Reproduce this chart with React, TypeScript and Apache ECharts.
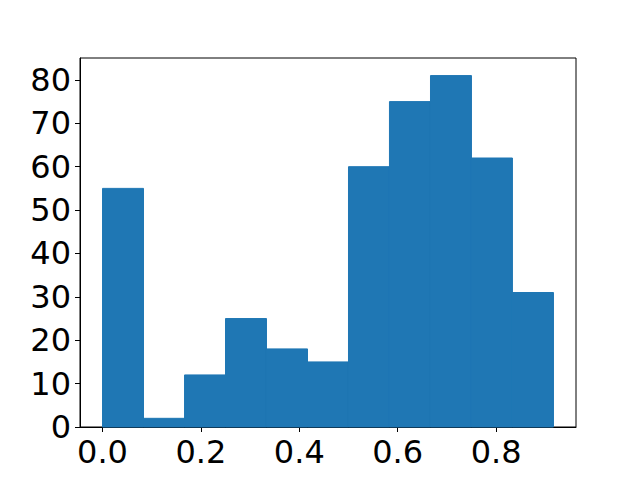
import React, { useEffect, useRef } from "react";
import * as echarts from "echarts";

const binStarts = [0, 0.0833, 0.1667, 0.25, 0.3333, 0.4167, 0.5, 0.5833, 0.6667, 0.75, 0.8333];
const binEnds = [0.0833, 0.1667, 0.25, 0.3333, 0.4167, 0.5, 0.5833, 0.6667, 0.75, 0.8333, 0.9167];
const counts = [55, 2, 12, 25, 18, 15, 60, 75, 81, 62, 31];
const xTicks = [0, 0.2, 0.4, 0.6, 0.8];
const yTicks = [0, 10, 20, 30, 40, 50, 60, 70, 80];

export default function App() {
  const ref = useRef<HTMLDivElement>(null);
  useEffect(() => {
    if (!ref.current) return;
    const chart = echarts.init(ref.current, undefined, { renderer: "svg" });
    const data = counts.map((c, i) => [binStarts[i], binEnds[i], c]);
    const font = { fontFamily: "DejaVu Sans", fontSize: 32, color: "#000" };
    chart.setOption({
      animation: false,
      backgroundColor: "#fff",
      grid: {
        left: 80,
        right: 64,
        top: 58,
        bottom: 53,
        show: true,
        borderColor: "#000",
        borderWidth: 1,
        backgroundColor: "transparent",
      },
      xAxis: {
        type: "value",
        min: -0.0458,
        max: 0.9625,
        splitLine: { show: false },
        axisLine: { show: true, onZero: false, lineStyle: { color: "#000", width: 1 } },
        axisTick: { show: true, length: 5, customValues: xTicks, lineStyle: { color: "#000", width: 1 } },
        axisLabel: { ...font, margin: 9, customValues: xTicks, formatter: (v: number) => v.toFixed(1) },
      },
      yAxis: {
        type: "value",
        min: 0,
        max: 85.05,
        splitLine: { show: false },
        axisLine: { show: true, onZero: false, lineStyle: { color: "#000", width: 1 } },
        axisTick: { show: true, length: 5, customValues: yTicks, lineStyle: { color: "#000", width: 1 } },
        axisLabel: { ...font, margin: 9, customValues: yTicks, formatter: (v: number) => String(Math.round(v)) },
      },
      series: [
        {
          type: "custom",
          data,
          encode: { x: [0, 1], y: 2 },
          renderItem: (params: any, api: any) => {
            const p0 = api.coord([api.value(0), api.value(2)]);
            const p1 = api.coord([api.value(1), 0]);
            return {
              type: "rect",
              shape: { x: p0[0], y: p0[1], width: p1[0] - p0[0], height: p1[1] - p0[1] },
              style: { fill: "#1f77b4", stroke: "#1f77b4", lineWidth: 1 },
            };
          },
        },
      ],
    });
    return () => chart.dispose();
  }, []);
  return <div ref={ref} style={{ position: "fixed", left: 0, top: 0, width: 640, height: 480 }} />;
}
